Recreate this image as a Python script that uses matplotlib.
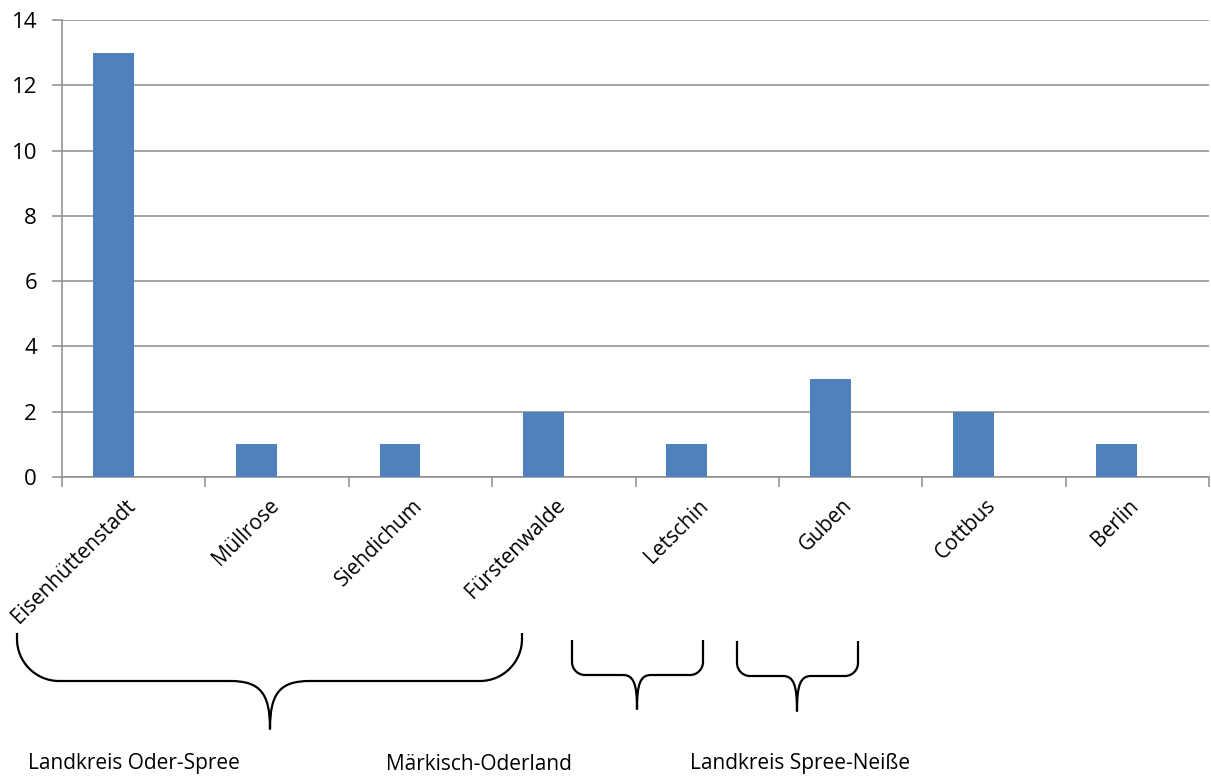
import matplotlib
matplotlib.use("Agg")
import matplotlib.pyplot as plt
from matplotlib.path import Path
from matplotlib.patches import PathPatch
import matplotlib.transforms as mtransforms
import numpy as np

plt.rcParams['font.family'] = ['Open Sans', 'DejaVu Sans']

# data
orte = ['Eisenhüttenstadt', 'Müllrose', 'Siehdichum', 'Fürstenwalde',
        'Letschin', 'Guben', 'Cottbus', 'Berlin']
anzahl = [13, 1, 1, 2, 1, 3, 2, 1]
kreise = ['Landkreis Oder-Spree', 'Märkisch-Oderland', 'Landkreis Spree-Neiße']

W, H = 1211, 778
fig = plt.figure(figsize=(W / 100, H / 100), dpi=100)
ax = fig.add_axes([62 / W, 1 - 477 / H, (1209 - 62) / W, (477 - 20) / H])

x = np.arange(len(orte))
# bars sit left of the category centre (like the first of two clustered series)
ax.bar(x, anzahl, width=-0.285, align='edge', color='#4F81BD', zorder=3)

ax.set_xlim(-0.5, len(orte) - 0.5)
ax.set_ylim(0, 14)
ax.set_yticks(range(0, 15, 2))
ax.yaxis.grid(True, color='#8c8c8c', linewidth=1.1, zorder=0)
ax.set_axisbelow(True)

for s in ['top', 'right']:
    ax.spines[s].set_visible(False)
for s in ['left', 'bottom']:
    ax.spines[s].set_color('#8c8c8c')
    ax.spines[s].set_linewidth(1.1)

# ticks on category boundaries, labels at the centres
ax.set_xticks(np.arange(-0.5, len(orte)))
ax.set_xticklabels([])
ax.tick_params(axis='x', length=7, color='#8c8c8c', width=1.1)
ax.tick_params(axis='y', length=7, color='#8c8c8c', width=1.1, labelsize=16, pad=11)

off = mtransforms.offset_copy(ax.get_xaxis_transform(), fig=fig, x=6, y=-18, units='dots')
for xi, name in zip(x, orte):
    ax.text(xi, 0, name, rotation=45, ha='right', va='top', fontsize=15,
            transform=off)


# curly braces drawn in figure pixel coordinates (top-left origin)
def brace(x0, x1, ytop, ymid, ytip, xtip, rc, dt):
    def p(px, py):
        return (px / W, 1 - py / H)
    k = 0.55
    verts = [p(x0, ytop),
             p(x0, ymid - rc),
             p(x0, ymid - rc * (1 - k)), p(x0 + rc * (1 - k), ymid), p(x0 + rc, ymid),
             p(xtip - dt, ymid),
             p(xtip - dt * 0.25, ymid), p(xtip, ymid + (ytip - ymid) * 0.25), p(xtip, ytip),
             p(xtip, ymid + (ytip - ymid) * 0.25), p(xtip + dt * 0.25, ymid), p(xtip + dt, ymid),
             p(x1 - rc, ymid),
             p(x1 - rc * (1 - k), ymid), p(x1, ymid - rc * (1 - k)), p(x1, ymid - rc),
             p(x1, ytop)]
    codes = [Path.MOVETO, Path.LINETO,
             Path.CURVE4, Path.CURVE4, Path.CURVE4,
             Path.LINETO,
             Path.CURVE4, Path.CURVE4, Path.CURVE4,
             Path.CURVE4, Path.CURVE4, Path.CURVE4,
             Path.LINETO,
             Path.CURVE4, Path.CURVE4, Path.CURVE4,
             Path.LINETO]
    fig.patches.append(PathPatch(Path(verts, codes), fill=False, lw=1.6,
                                 edgecolor='black', transform=fig.transFigure,
                                 capstyle='butt', joinstyle='round'))


brace(17, 522, 633, 681, 729, 270, 42, 40)
brace(572, 703, 640, 675, 709, 637, 13, 14)
brace(737, 858, 641, 676, 711, 797, 13, 14)

for k, xpos in zip(kreise, [28, 386, 690]):
    fig.text(xpos / W, 1 - 764 / H, k, fontsize=15, ha='left', va='center')

fig.savefig('out.png', dpi=100)
